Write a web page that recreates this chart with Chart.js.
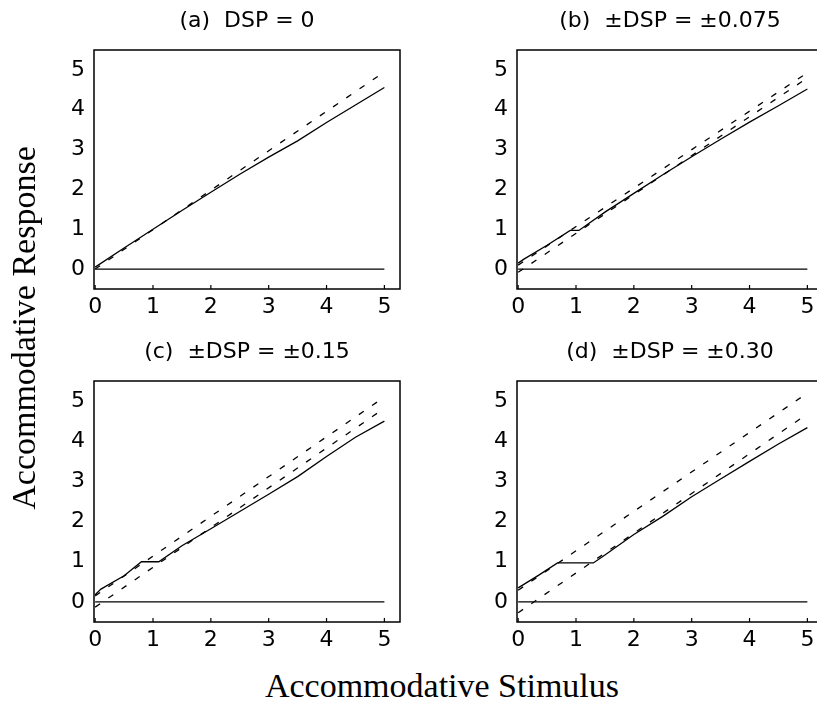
<!DOCTYPE html>
<html>
<head>
<meta charset="utf-8">
<script src="https://cdn.jsdelivr.net/npm/chart.js@4.4.0/dist/chart.umd.min.js"></script>
<style>
    html, body { margin: 0; padding: 0; background: #fff; }
    body { width: 817px; height: 704px; position: relative; overflow: hidden; }
    canvas { position: absolute; }
    .axis-title {
        position: absolute;
        font-family: "Liberation Serif", "Times New Roman", serif;
        font-size: 34px;
        line-height: 34px;
        color: #000;
        text-align: center;
        white-space: nowrap;
    }
    #yTitle { width: 400px; height: 34px; left: -176px; top: 311px; transform: rotate(-90deg); }
    #xTitle { width: 600px; left: 142px; top: 669px; }
</style>
</head>
<body>
<canvas id="panelA" width="376" height="329" style="left:34px;top:0px"></canvas>
<canvas id="panelB" width="376" height="329" style="left:457px;top:0px"></canvas>
<canvas id="panelC" width="376" height="331" style="left:34px;top:331px"></canvas>
<canvas id="panelD" width="376" height="331" style="left:457px;top:331px"></canvas>
<div class="axis-title" id="yTitle">Accommodative Response</div>
<div class="axis-title" id="xTitle">Accommodative Stimulus</div>

<script>
// ===== DATA =====
const xTicks = [0, 1, 2, 3, 4, 5];
const yTicks = [0, 1, 2, 3, 4, 5];
const zeroX = [0, 5];
const zeroY = [0, 0];

// (a) DSP = 0
const aRespX = [0, 0.5, 1, 1.5, 2, 2.5, 3, 3.5, 4, 4.5, 5];
const aRespY = [0.05, 0.53, 1.0, 1.47, 1.93, 2.38, 2.81, 3.22, 3.68, 4.12, 4.56];
const aDashX = [0, 5];
const aDashY = [0, 4.95];

// (b) ±DSP = ±0.075
const bRespX = [0, 0.1, 0.5, 0.9, 1.05, 1.5, 2, 2.5, 3, 3.5, 4, 4.5, 5];
const bRespY = [0.15, 0.25, 0.6, 0.97, 0.97, 1.43, 1.9, 2.37, 2.82, 3.26, 3.69, 4.1, 4.52];
const bUpX = [0, 5];
const bUpY = [0.1, 4.93];
const bLowX = [0, 5];
const bLowY = [-0.08, 4.8];

// (c) ±DSP = ±0.15
const cRespX = [0, 0.1, 0.5, 0.8, 1.1, 1.5, 2, 2.5, 3, 3.5, 4, 4.5, 5];
const cRespY = [0.18, 0.32, 0.65, 1.0, 1.0, 1.4, 1.82, 2.25, 2.68, 3.12, 3.62, 4.1, 4.5];
const cUpX = [0, 5];
const cUpY = [0.15, 5.1];
const cLowX = [0, 5];
const cLowY = [-0.13, 4.82];

// (d) ±DSP = ±0.30
const dRespX = [0, 0.35, 0.68, 1.3, 1.5, 2, 2.5, 3, 3.5, 4, 4.5, 5];
const dRespY = [0.35, 0.66, 0.97, 0.97, 1.17, 1.68, 2.13, 2.62, 3.06, 3.5, 3.93, 4.34];
const dUpX = [0, 5];
const dUpY = [0.29, 5.2];
const dLowX = [0, 5];
const dLowY = [-0.27, 4.68];

const tickFont = { family: 'DejaVu Sans', size: 22 };

function pts(xs, ys) {
    return xs.map((x, i) => ({ x: x, y: ys[i] }));
}

function solid(xs, ys) {
    return { data: pts(xs, ys), borderColor: '#000', borderWidth: 1.3, pointRadius: 0, showLine: true };
}

function dashed(xs, ys) {
    return { data: pts(xs, ys), borderColor: '#000', borderWidth: 1.3, borderDash: [6, 10], pointRadius: 0, showLine: true };
}

// plot box and inward ticks on the bottom axis
const boxPlugin = {
    id: 'box',
    afterDatasetsDraw(chart) {
        const { ctx, chartArea: a, scales } = chart;
        ctx.save();
        ctx.strokeStyle = '#000';
        ctx.lineWidth = 1.5;
        ctx.strokeRect(a.left, a.top, a.right - a.left, a.bottom - a.top);
        ctx.lineWidth = 1.2;
        xTicks.forEach(v => {
            const px = scales.x.getPixelForValue(v);
            ctx.beginPath();
            ctx.moveTo(px, a.bottom);
            ctx.lineTo(px, a.bottom - 4);
            ctx.stroke();
        });
        ctx.restore();
    }
};

function makePanel(id, title, datasets) {
    new Chart(document.getElementById(id), {
        type: 'scatter',
        data: { datasets: datasets },
        options: {
            responsive: false,
            animation: false,
            layout: { padding: { left: 0, right: 10, top: 0, bottom: 0 } },
            plugins: {
                legend: { display: false },
                tooltip: { enabled: false },
                title: {
                    display: true,
                    text: title,
                    color: '#000',
                    fullSize: false,
                    font: { family: 'DejaVu Sans', size: 22, weight: 'normal', lineHeight: 1.2 },
                    padding: { top: 8, bottom: 15.6 }
                }
            },
            scales: {
                x: {
                    type: 'linear',
                    min: -0.02,
                    max: 5.27,
                    grid: { display: false, drawTicks: false },
                    border: { display: false },
                    ticks: { color: '#000', font: tickFont, padding: 5 },
                    afterBuildTicks: s => { s.ticks = xTicks.map(v => ({ value: v })); },
                    afterFit: s => { s.height = 40; }
                },
                y: {
                    min: -0.5,
                    max: 5.5,
                    grid: { display: false, drawTicks: false },
                    border: { display: false },
                    ticks: { color: '#000', font: tickFont, padding: 9 },
                    afterBuildTicks: s => { s.ticks = yTicks.map(v => ({ value: v })); },
                    afterFit: s => { s.width = 60; }
                }
            }
        },
        plugins: [boxPlugin]
    });
}

makePanel('panelA', '(a)  DSP = 0', [
    solid(zeroX, zeroY),
    dashed(aDashX, aDashY),
    solid(aRespX, aRespY)
]);

makePanel('panelB', '(b)  ±DSP = ±0.075', [
    solid(zeroX, zeroY),
    dashed(bUpX, bUpY),
    dashed(bLowX, bLowY),
    solid(bRespX, bRespY)
]);

makePanel('panelC', '(c)  ±DSP = ±0.15', [
    solid(zeroX, zeroY),
    dashed(cUpX, cUpY),
    dashed(cLowX, cLowY),
    solid(cRespX, cRespY)
]);

makePanel('panelD', '(d)  ±DSP = ±0.30', [
    solid(zeroX, zeroY),
    dashed(dUpX, dUpY),
    dashed(dLowX, dLowY),
    solid(dRespX, dRespY)
]);
</script>
</body>
</html>
